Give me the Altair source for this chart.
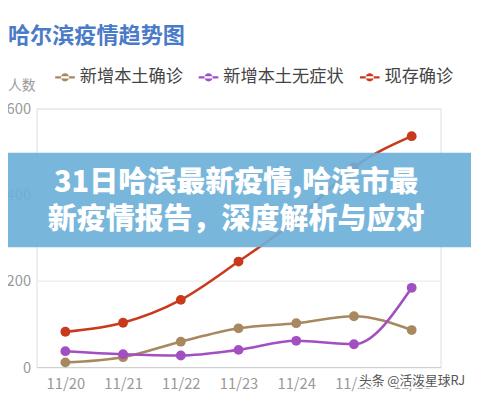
import altair as alt
import pandas as pd

dates = ["11/20", "11/21", "11/22", "11/23", "11/24", "11/25", "11/26"]
series_names = ["新增本土确诊", "新增本土无症状", "现存确诊"]
confirmed = [11, 23, 59, 90, 102, 118, 86]
asymptomatic = [37, 30, 27, 40, 61, 53, 184]
existing = [82, 103, 156, 245, 342, 464, 536]
colors = ["#a8885e", "#a24fc2", "#c9391b"]
y_ticks = [0, 200, 400, 600]

rows = []
for name, vals in zip(series_names, [confirmed, asymptomatic, existing]):
    for d, v in zip(dates, vals):
        rows.append({"date": d, "series": name, "value": v})
df = pd.DataFrame(rows)

FONT = "Noto Sans CJK SC"
W, H = 411, 263

x = alt.X("date:O", sort=dates, title=None,
          axis=alt.Axis(labelAngle=0, labelColor="#999999", labelFontSize=15,
                        labelFont=FONT, ticks=False, domainColor="#cccccc",
                        domainWidth=1, labelPadding=10, grid=False))
y = alt.Y("value:Q", title=None,
          scale=alt.Scale(domain=[0, 600], nice=False),
          axis=alt.Axis(values=y_ticks, labelColor="#999999", labelFontSize=15,
                        labelFont=FONT, ticks=False, domain=False,
                        gridColor="#e8e8e8", labelPadding=6))
color = alt.Color("series:N", sort=series_names,
                  scale=alt.Scale(domain=series_names, range=colors),
                  legend=alt.Legend(
                      title=None, orient="none", direction="horizontal",
                      legendX=19, legendY=-42, padding=0,
                      symbolType="M-1,-0.12L1,-0.12L1,0.12L-1,0.12Z M-0.42,0A0.42,0.42,0,1,0,0.42,0A0.42,0.42,0,1,0,-0.42,0Z",
                      symbolSize=400, symbolStrokeWidth=0,
                      labelFont=FONT, labelFontSize=17.5, labelColor="#444444",
                      labelOffset=5, columnPadding=16))

base = alt.Chart(df)
lines = base.mark_line(interpolate="monotone", strokeWidth=2.6).encode(x=x, y=y, color=color)
points = base.mark_circle(size=100, opacity=1).encode(x=x, y=y, color=alt.Color("series:N", sort=series_names, scale=alt.Scale(domain=series_names, range=colors), legend=None))

title_df = pd.DataFrame({"t": ["哈尔滨疫情趋势图"]})
title = alt.Chart(title_df).mark_text(
    align="left", baseline="middle", font=FONT, fontSize=22.5, fontWeight="bold",
    color="#4a7bc8").encode(x=alt.value(-29), y=alt.value(-74), text="t:N")

ylab_df = pd.DataFrame({"t": ["人数"]})
ylab = alt.Chart(ylab_df).mark_text(
    align="left", baseline="middle", font=FONT, fontSize=14,
    color="#999999").encode(x=alt.value(-29), y=alt.value(-23), text="t:N")

banner_df = pd.DataFrame({"a": [1]})
banner = alt.Chart(banner_df).mark_rect(color="#6eb0d8", opacity=0.92).encode(
    x=alt.value(-29), x2=alt.value(442), y=alt.value(45), y2=alt.value(141))

b1 = alt.Chart(pd.DataFrame({"t": ["31日哈滨最新疫情,哈滨市最"]})).mark_text(
    align="center", baseline="middle", font=FONT, fontSize=29.5, fontWeight=900,
    color="white").encode(x=alt.value(203), y=alt.value(76), text="t:N")
b2 = alt.Chart(pd.DataFrame({"t": ["新疫情报告，深度解析与应对"]})).mark_text(
    align="center", baseline="middle", font=FONT, fontSize=29.5, fontWeight=900,
    color="white").encode(x=alt.value(203), y=alt.value(113), text="t:N")

wm_df = pd.DataFrame({"t": ["头条 @活泼星球RJ"]})
wm_halo = alt.Chart(wm_df).mark_text(
    align="left", baseline="middle", font=FONT, fontSize=13,
    color="white", stroke="white", strokeWidth=3).encode(
    x=alt.value(328), y=alt.value(277), text="t:N")
wm = alt.Chart(wm_df).mark_text(
    align="left", baseline="middle", font=FONT, fontSize=13,
    color="#555555").encode(x=alt.value(328), y=alt.value(277), text="t:N")

chart = alt.layer(lines, points, banner, b1, b2, wm_halo, wm, title, ylab).properties(
    width=W, height=H,
    autosize=alt.AutoSizeParams(type="none"),
    padding={"left": 29, "top": 99, "right": 31, "bottom": 22},
).configure_view(stroke=None).configure(background="white")

chart.save("out.html", embed_options={"renderer": "svg", "actions": False})
